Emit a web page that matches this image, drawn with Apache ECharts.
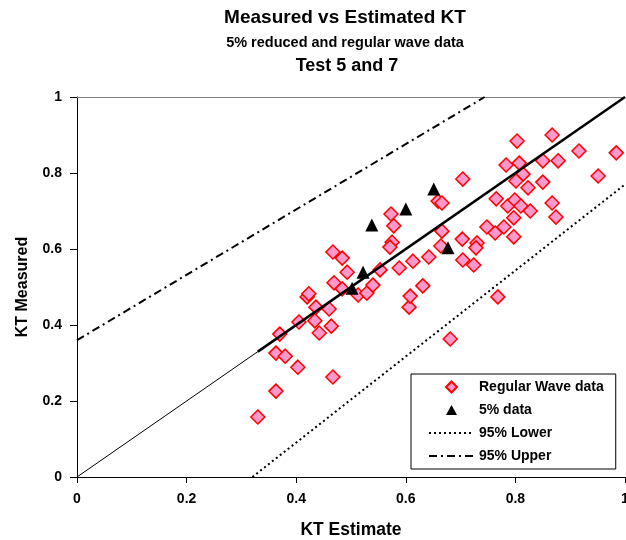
<!DOCTYPE html>
<html><head><meta charset="utf-8">
<script src="https://cdn.jsdelivr.net/npm/echarts@6/dist/echarts.min.js"></script>
<style>html,body{margin:0;padding:0;background:#fff}#c{width:626px;height:540px}</style>
</head><body><div id="c"></div>
<script>
const regularX = [0.330,0.363,0.363,0.380,0.370,0.403,0.405,0.420,0.423,0.436,0.434,0.442,0.460,0.464,0.467,0.467,0.484,0.493,0.469,0.484,0.513,0.529,0.540,0.553,0.573,0.578,0.575,0.571,0.588,0.613,0.606,0.608,0.631,0.642,0.659,0.666,0.666,0.664,0.681,0.704,0.703,0.704,0.724,0.730,0.728,0.748,0.763,0.765,0.779,0.768,0.783,0.786,0.799,0.797,0.797,0.803,0.807,0.810,0.814,0.801,0.823,0.827,0.850,0.850,0.867,0.867,0.874,0.878,0.916,0.951,0.984];
const regularY = [0.158,0.226,0.326,0.318,0.376,0.289,0.408,0.474,0.482,0.447,0.411,0.379,0.442,0.397,0.263,0.592,0.576,0.539,0.511,0.495,0.479,0.484,0.505,0.545,0.692,0.661,0.618,0.605,0.550,0.568,0.447,0.476,0.503,0.579,0.726,0.721,0.647,0.608,0.363,0.784,0.626,0.571,0.558,0.616,0.603,0.658,0.642,0.732,0.658,0.474,0.821,0.713,0.729,0.682,0.632,0.884,0.826,0.713,0.797,0.779,0.761,0.700,0.832,0.776,0.900,0.721,0.684,0.832,0.858,0.792,0.853];
const fiveX = [0.502,0.522,0.538,0.600,0.651,0.677];
const fiveY = [0.497,0.539,0.663,0.705,0.758,0.603];
const lowerX = [0.32, 1.0];
const lowerY = [0.0, 0.77];
const upperX = [0.0, 0.744];
const upperY = [0.36, 1.0];
const identityX = [0, 1];
const identityY = [0, 1];
const fitX = [0.33, 1];
const fitY = [0.33, 1];
const legendNames = ['Regular Wave data', '5% data', '95% Lower', '95% Upper'];

const zip = (a, b) => a.map((v, i) => [v, b[i]]);
const FONT = '"Liberation Sans", Arial, sans-serif';
// legend icons laid out in a 45x12 box so they are not stretched
const diamondIcon = 'path://M0,0M45,12M22.5,0.5L28,6L22.5,11.5L17,6Z';
const triangleIcon = 'path://M0,0M45,12M22.5,1L28,11L17,11Z';

const chart = echarts.init(document.getElementById('c'), null, {renderer: 'canvas'});
chart.setOption({
  animation: false,
  backgroundColor: '#fff',
  textStyle: {fontFamily: FONT},
  graphic: [
    {type: 'text', x: 345, y: 18, style: {text: 'Measured vs Estimated KT', font: 'bold 19px ' + FONT, fill: '#000', align: 'center', verticalAlign: 'middle'}},
    {type: 'text', x: 345, y: 43, style: {text: '5% reduced and regular wave data', font: 'bold 14.5px ' + FONT, fill: '#000', align: 'center', verticalAlign: 'middle'}},
    {type: 'text', x: 347, y: 66, style: {text: 'Test 5 and 7', font: 'bold 18px ' + FONT, fill: '#000', align: 'center', verticalAlign: 'middle'}}
  ],
  grid: {left: 77, top: 97, right: 1, bottom: 63, containLabel: false, outerBoundsMode: 'none'},
  legend: {
    data: [
      {name: legendNames[0], icon: diamondIcon},
      {name: legendNames[1], icon: triangleIcon},
      {name: legendNames[2], itemStyle: {opacity: 0}},
      {name: legendNames[3], itemStyle: {opacity: 0}}
    ],
    orient: 'vertical',
    left: 411, top: 374,
    padding: [6, 12, 6, 17],
    itemWidth: 45, itemHeight: 12, itemGap: 9, itemTextGap: 0,
    symbolKeepAspect: true,
    borderColor: '#000', borderWidth: 1, backgroundColor: '#fff',
    textStyle: {fontFamily: FONT, fontWeight: 'bold', fontSize: 14, color: '#000'},
    z: 10
  },
  xAxis: [{
    type: 'value', min: 0, max: 1, interval: 0.2,
    name: 'KT Estimate', nameLocation: 'middle', nameGap: 44,
    nameTextStyle: {fontFamily: FONT, fontWeight: 'bold', fontSize: 17.5, color: '#000'},
    axisLine: {show: true, lineStyle: {color: '#000', width: 1}},
    axisTick: {show: true, inside: false, length: 6, lineStyle: {color: '#000'}},
    axisLabel: {margin: 15, fontFamily: FONT, fontWeight: 'bold', fontSize: 14, color: '#000'},
    splitLine: {show: false}
  }, {
    type: 'value', min: 0, max: 1, position: 'top',
    axisLine: {show: true, lineStyle: {color: '#808080', width: 1}},
    axisTick: {show: false}, axisLabel: {show: false}, splitLine: {show: false}
  }],
  yAxis: {
    type: 'value', min: 0, max: 1, interval: 0.2,
    name: 'KT Measured', nameLocation: 'middle', nameGap: 46, nameRotate: 90,
    nameTextStyle: {fontFamily: FONT, fontWeight: 'bold', fontSize: 16, color: '#000'},
    axisLine: {show: true, lineStyle: {color: '#000', width: 1}},
    axisTick: {show: true, inside: false, length: 7, lineStyle: {color: '#000'}},
    axisLabel: {margin: 15, fontFamily: FONT, fontWeight: 'bold', fontSize: 14, color: '#000'},
    splitLine: {show: false}
  },
  series: [
    {
      name: 'Regular Wave data', type: 'scatter', symbol: 'diamond', symbolSize: 14, symbolKeepAspect: true,
      itemStyle: {color: '#FF99CC', borderColor: '#FF0000', borderWidth: 1.5, opacity: 1},
      data: zip(regularX, regularY), z: 3
    },
    {
      name: '5% data', type: 'scatter', symbol: 'triangle', symbolSize: 13, symbolKeepAspect: true,
      itemStyle: {color: '#000', opacity: 1},
      data: zip(fiveX, fiveY), z: 5
    },
    {
      name: '95% Lower', type: 'line', symbol: 'none', clip: true,
      lineStyle: {color: '#000', width: 2, type: [2, 3]},
      itemStyle: {color: '#000'},
      data: zip(lowerX, lowerY), z: 2
    },
    {
      name: '95% Upper', type: 'line', symbol: 'none', clip: true,
      lineStyle: {color: '#000', width: 2, type: [8, 4, 2, 4]},
      itemStyle: {color: '#000'},
      data: zip(upperX, upperY), z: 2
    },
    {
      name: 'identity', type: 'line', symbol: 'none', clip: true, silent: true,
      lineStyle: {color: '#000', width: 1},
      data: zip(identityX, identityY), z: 4
    },
    {
      name: 'fit', type: 'line', symbol: 'none', clip: true, silent: true,
      lineStyle: {color: '#000', width: 2.5},
      data: zip(fitX, fitY), z: 4
    }
  ]
});
</script></body></html>
